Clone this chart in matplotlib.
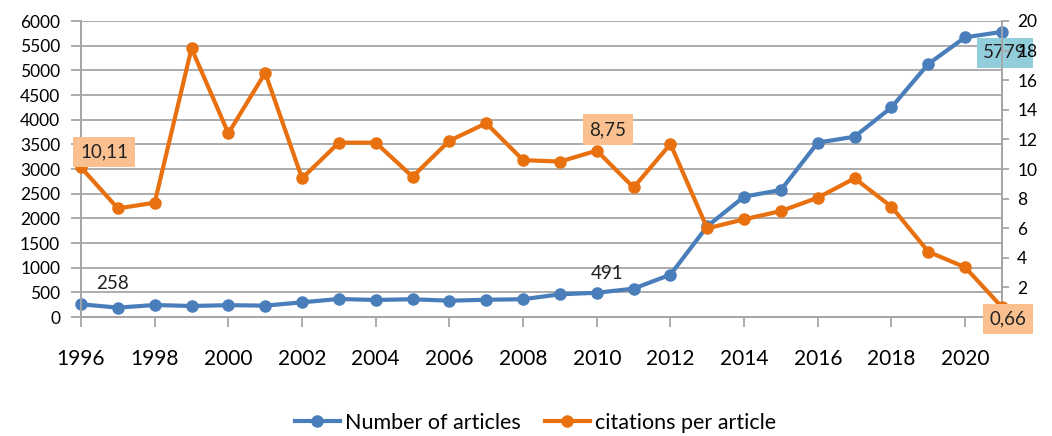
import matplotlib
matplotlib.use("Agg")
import matplotlib.pyplot as plt
from matplotlib.ticker import MultipleLocator

plt.rcParams['font.family'] = ['Lato', 'DejaVu Sans']

years = list(range(1996, 2022))
articles = [258, 190, 243, 223, 240, 230, 298, 365, 345, 360, 330, 350, 360,
            460, 491, 575, 858, 1840, 2440, 2575, 3535, 3655, 4250, 5130,
            5670, 5779]
citations = [10.11, 7.34, 7.72, 18.15, 12.41, 16.5, 9.37, 11.78, 11.78, 9.48,
             11.91, 13.09, 10.6, 10.5, 11.24, 8.75, 11.69, 5.99, 6.6, 7.16,
             8.06, 9.37, 7.45, 4.41, 3.36, 0.66]

blue = '#4a7ebb'
orange = '#e8700f'
grid_c = '#a6a6a6'

fig = plt.figure(figsize=(10.52, 4.36), dpi=100)
ax = fig.add_axes([81/1052, 1-317/436, (1002-81)/1052, (317-21)/436])
ax2 = ax.twinx()

ax.set_xlim(1996, 2021)
ax.set_ylim(0, 6000)
ax2.set_ylim(0, 20)

ax.yaxis.set_major_locator(MultipleLocator(500))
ax2.yaxis.set_major_locator(MultipleLocator(2))
ax.xaxis.set_major_locator(MultipleLocator(2))
ax.grid(axis='y', color=grid_c, linewidth=1.3)
ax.set_axisbelow(True)

for a in (ax, ax2):
    for s in a.spines.values():
        s.set_color(grid_c)
        s.set_linewidth(1.3)
    a.spines['top'].set_visible(False)

ax.tick_params(axis='y', length=7, width=1.3, color=grid_c, labelsize=12.5, pad=8)
ax2.tick_params(axis='y', length=5, width=1.3, color=grid_c, labelsize=12.5, pad=6)
ax.tick_params(axis='x', length=7, width=1.3, color=grid_c, labelsize=15, pad=16)
ax2.set_yticks(range(0, 21, 2))
ax2.set_yticklabels([str(v) for v in range(0, 21, 2)])

l1, = ax.plot(years, articles, color=blue, linewidth=3, marker='o',
              markersize=8, clip_on=False, zorder=3, label='Number of articles')
l2, = ax2.plot(years, citations, color=orange, linewidth=3, marker='o',
               markersize=8, clip_on=False, zorder=3, label='citations per article')

def fmt(v):
    return f"{v:.2f}".replace('.', ',')

lbl_fs = 13.5
ax.annotate(str(articles[0]), (years[0], articles[0]), xytext=(31, 21),
            textcoords='offset pixels', ha='center', va='center',
            fontsize=lbl_fs, color='#222222')
ax.annotate(str(articles[14]), (years[14], articles[14]), xytext=(10, 19),
            textcoords='offset pixels', ha='center', va='center',
            fontsize=lbl_fs, color='#222222')
ax.annotate(str(articles[-1]), (years[-1], articles[-1]), xytext=(3, -21),
            textcoords='offset pixels', ha='center', va='center',
            fontsize=lbl_fs, color='#222222', annotation_clip=False,
            bbox=dict(boxstyle='square,pad=0.35', fc='#92cddc', ec='none'),
            zorder=5)

box_o = dict(boxstyle='square,pad=0.35', fc='#fac090', ec='none')
ax2.annotate(fmt(citations[0]), (years[0], citations[0]), xytext=(23, 15),
             textcoords='offset pixels', ha='center', va='center',
             fontsize=lbl_fs, color='#222222', bbox=box_o, zorder=5)
ax2.annotate(fmt(citations[15]), (years[15], citations[15]), xytext=(-26, 58),
             textcoords='offset pixels', ha='center', va='center',
             fontsize=lbl_fs, color='#222222', bbox=box_o, zorder=5)
ax2.annotate(fmt(citations[-1]), (years[-1], citations[-1]), xytext=(6, -12),
             textcoords='offset pixels', ha='center', va='center',
             fontsize=lbl_fs, color='#222222', bbox=box_o, zorder=5,
             annotation_clip=False)

fig.legend(handles=[l1, l2], loc='center', bbox_to_anchor=(0.509, 0.03),
           ncol=2, frameon=False, fontsize=15.5, handlelength=2.1,
           handletextpad=0.25, columnspacing=1.1, numpoints=1)

fig.savefig('out.png', dpi=100)
